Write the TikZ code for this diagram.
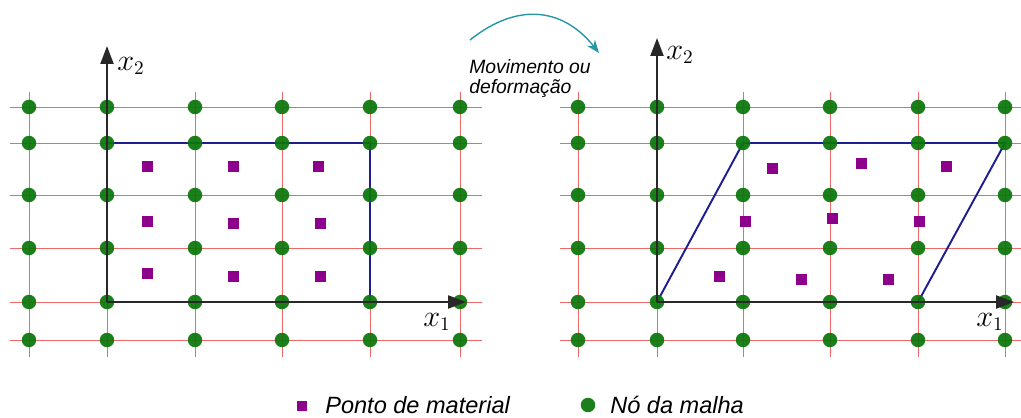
\documentclass[tikz,border=0pt]{standalone}
\usepackage{fontspec}
\setsansfont{Liberation Sans}
\usetikzlibrary{positioning,arrows.meta,backgrounds}
\definecolor{gridred}{RGB}{240,105,105}
\definecolor{nodegreen}{RGB}{10,118,10}
\definecolor{matpurple}{RGB}{140,0,140}
\definecolor{bodyblue}{RGB}{30,30,145}
\definecolor{moveteal}{RGB}{40,150,165}
\definecolor{axisgray}{RGB}{40,40,40}

\begin{document}
\begin{tikzpicture}[x=0.02cm,y=-0.02cm,
  meshnode/.style={circle,fill=nodegreen,fill opacity=0.93,inner sep=0pt,minimum size=0.29cm},
  matpoint/.style={rectangle,fill=matpurple,inner sep=0pt,minimum size=0.22cm},
  gridline/.style={gridred,line width=0.55pt},
  bodyline/.style={bodyblue,line width=1.1pt,line join=round},
  axisline/.style={axisgray,line width=1.3pt,-{Triangle[length=3.6mm,width=2.6mm]}},
  axislabel/.style={font=\fontsize{16}{18}\selectfont,inner sep=0pt},
  movetextstyle/.style={anchor=base west,inner sep=0pt,font=\sffamily\itshape\fontsize{11}{12}\selectfont},
  legendtext/.style={anchor=base west,inner sep=0pt,font=\sffamily\itshape\fontsize{13.4}{16}\selectfont}]
  \useasboundingbox (0,0) rectangle (1021,418);
  \foreach \x [count=\i] in {29,107,195,282,370,460}
    \foreach \y [count=\j] in {107,143,195,248,302,340}
      \node[meshnode] (L\i\j) at (\x,\y) {};
  \foreach \x [count=\i] in {578,657,743,830,918,1005}
    \foreach \y [count=\j] in {107,143,195,248,302,340}
      \node[meshnode] (R\i\j) at (\x,\y) {};
  \begin{pgfonlayer}{background}
    \foreach \i in {1,...,6}{
      \draw[gridline] ([yshift=0.3cm]L\i1.center) -- ([yshift=-0.34cm]L\i6.center);
      \draw[gridline] ([xshift=-0.38cm]L1\i.center) -- ([xshift=0.44cm]L6\i.center);
      \draw[gridline] ([yshift=0.3cm]R\i1.center) -- ([yshift=-0.34cm]R\i6.center);
      \draw[gridline] ([xshift=-0.36cm]R1\i.center) -- ([xshift=0.32cm]R6\i.center);
    }
    \draw[bodyline] (L22.center) -- (L52.center) -- (L55.center) -- (L25.center) -- cycle;
    \draw[bodyline] (R25.center) -- (R55.center) -- (R62.center) -- (R32.center) -- cycle;
  \end{pgfonlayer}
  \foreach \x/\y [count=\k] in {147/167,233/167,318/167,147/222,233/224,320/224,147/274,233/277,320/277}
    \node[matpoint] (LM\k) at (\x,\y) {};
  \foreach \x/\y [count=\k] in {772/169,861/164,946/167,745/222,832/219,919/222,719/277,801/280,888/280}
    \node[matpoint] (RM\k) at (\x,\y) {};
  \coordinate (Lx2end) at (107,46);
  \coordinate (Lx1end) at (466,302);
  \coordinate (Rx2end) at (657,38);
  \coordinate (Rx1end) at (1014,302);
  \draw[axisline] (L25.center) -- (Lx2end);
  \draw[axisline] (L25.center) -- (Lx1end);
  \draw[axisline] (R25.center) -- (Rx2end);
  \draw[axisline] (R25.center) -- (Rx1end);
  \node[axislabel] (Lx2lab) at (131,66) {$x_2$};
  \node[axislabel] (Lx1lab) at (437,322) {$x_1$};
  \node[axislabel] (Rx2lab) at (680,55) {$x_2$};
  \node[axislabel] (Rx1lab) at (990,322) {$x_1$};
  \coordinate (movestart) at (470,40);
  \coordinate (moveend) at (599,53);
  \draw[moveteal,line width=0.8pt,-{Stealth[length=2.6mm,width=2mm]}]
    (movestart) .. controls (520,0) and (565,10) .. (moveend);
  \node[movetextstyle] (movetext) at (469,74) {Movimento ou};
  \node[movetextstyle] (deftext) at (469,94) {deformação};
  \node[matpoint,minimum size=0.21cm] (legsquare) at (302,406) {};
  \node[legendtext] (legmat) at (325,414) {Ponto de material};
  \node[meshnode] (legdot) at (588,405) {};
  \node[legendtext] (legnode) at (610,414) {Nó da malha};
\end{tikzpicture}
\end{document}
